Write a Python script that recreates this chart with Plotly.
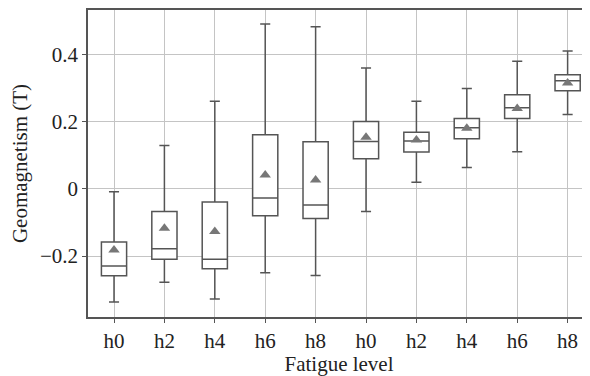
import plotly.graph_objects as go

labels = ["h0", "h2", "h4", "h6", "h8", "h0", "h2", "h4", "h6", "h8"]
positions = list(range(len(labels)))
upper = [-0.008, 0.130, 0.262, 0.492, 0.484, 0.361, 0.262, 0.300, 0.381, 0.412]
q3 = [-0.158, -0.067, -0.039, 0.162, 0.141, 0.201, 0.169, 0.210, 0.281, 0.341]
median = [-0.230, -0.178, -0.210, -0.027, -0.048, 0.142, 0.143, 0.183, 0.242, 0.323]
q1 = [-0.259, -0.210, -0.238, -0.080, -0.088, 0.090, 0.110, 0.150, 0.210, 0.293]
lower = [-0.337, -0.278, -0.328, -0.250, -0.258, -0.067, 0.020, 0.064, 0.111, 0.222]
mean = [-0.182, -0.117, -0.127, 0.042, 0.027, 0.154, 0.146, 0.181, 0.240, 0.316]

ytick_vals = [-0.2, 0, 0.2, 0.4]
ytick_text = ["\u22120.2", "0", "0.2", "0.4"]

line_col = "#555555"
grid_col = "#c4c4c4"
font = dict(family="Liberation Serif", size=21, color="#222222")

fig = go.Figure()
fig.add_trace(go.Box(
    x=positions, q1=q1, median=median, q3=q3,
    lowerfence=lower, upperfence=upper,
    width=0.5, whiskerwidth=0.4,
    fillcolor="white", line=dict(color=line_col, width=1.5),
    boxpoints=False, showlegend=False, hoverinfo="skip",
))
fig.add_trace(go.Scatter(
    x=positions, y=mean, mode="markers",
    marker=dict(symbol="triangle-up", size=10, color="#777777"),
    showlegend=False, hoverinfo="skip",
))

# page body adds an 8px margin, so the figure is sized to the visible area
fig.update_layout(
    width=582, height=368,
    margin=dict(l=80, r=0, t=2, b=59),
    paper_bgcolor="white", plot_bgcolor="white",
    font=font,
    xaxis=dict(
        range=[-0.516, 9.444], tickvals=positions, ticktext=labels,
        showgrid=True, gridcolor=grid_col, gridwidth=1,
        showline=True, linecolor=line_col, linewidth=1.5, mirror=True,
        ticks="outside", ticklen=4, tickcolor=line_col, tickwidth=1,
        zeroline=False, automargin=False,
        title=dict(text="Fatigue level", font=font, standoff=4),
    ),
    yaxis=dict(
        range=[-0.382, 0.534], tickvals=ytick_vals, ticktext=ytick_text,
        showgrid=True, gridcolor=grid_col, gridwidth=1,
        showline=True, linecolor=line_col, linewidth=1.5,
        ticks="outside", ticklen=4, tickcolor=line_col, tickwidth=1,
        zeroline=False, automargin=False,
        title=dict(text="Geomagnetism (T)", font=font, standoff=8),
    ),
)

fig.write_html("out.html")
